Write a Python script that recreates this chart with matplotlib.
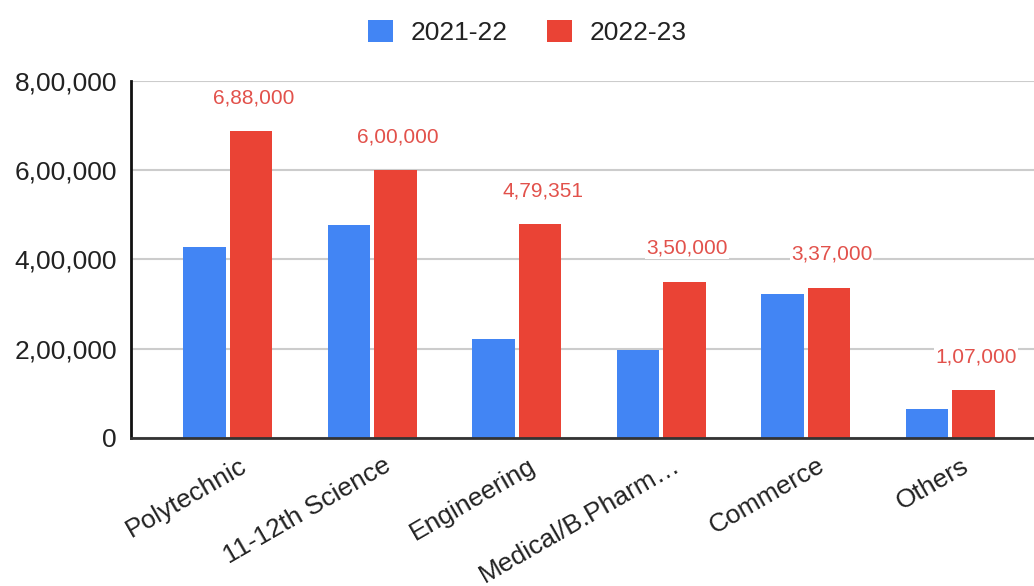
import matplotlib
matplotlib.use("Agg")
import matplotlib.pyplot as plt
import matplotlib.transforms as mtransforms
from matplotlib.ticker import FuncFormatter
import numpy as np

# 数据
categories = ["Polytechnic", "11-12th Science", "Engineering", "Medical/B.Pharm…", "Commerce", "Others"]
series_names = ["2021-22", "2022-23"]
values_2122 = [427000, 477000, 222000, 197000, 322000, 66000]
values_2223 = [688000, 600000, 479351, 350000, 337000, 107000]
y_ticks = [0, 200000, 400000, 600000, 800000]

BLUE = "#4285F4"
RED = "#EA4335"


def indian_format(v, pos=None):
    """印度计数法: 8,00,000"""
    v = int(round(v))
    s = str(v)
    if len(s) <= 3:
        return s
    last3 = s[-3:]
    rest = s[:-3]
    parts = []
    while len(rest) > 2:
        parts.insert(0, rest[-2:])
        rest = rest[:-2]
    if rest:
        parts.insert(0, rest)
    return ",".join(parts) + "," + last3


plt.rcParams["font.family"] = ["Liberation Sans", "DejaVu Sans"]

fig = plt.figure(figsize=(10.34, 5.86), dpi=100)
ax = fig.add_axes([0.1267, 0.2526, 0.8733, 0.6092])

x = np.arange(len(categories))
w = 0.295
off = 0.16
ax.bar(x - off, values_2122, w, color=BLUE, label=series_names[0], zorder=3)
ax.bar(x + off, values_2223, w, color=RED, label=series_names[1], zorder=3)

# 红色柱子的数值标签
for xi, v in zip(x, values_2223):
    ax.annotate(indian_format(v), (xi + off, v), xytext=(2, 24), textcoords="offset points",
                ha="center", va="center", fontsize=15, color="#e2514b", zorder=5,
                bbox=dict(boxstyle="square,pad=0.05", fc="white", ec="none"))

ax.set_xlim(-0.67, 5.58)
ax.set_ylim(0, 800000)
ax.set_yticks(y_ticks)
ax.yaxis.set_major_formatter(FuncFormatter(indian_format))
ax.grid(axis="y", color="#cccccc", linewidth=1.5, zorder=0)
ax.set_axisbelow(True)

for s in ["top", "right"]:
    ax.spines[s].set_visible(False)
ax.spines["left"].set_color("#111111")
ax.spines["left"].set_linewidth(2)
ax.spines["bottom"].set_color("#333333")
ax.spines["bottom"].set_linewidth(2)
ax.spines["left"].set_zorder(4)
ax.spines["bottom"].set_zorder(4)

ax.tick_params(axis="y", length=0, pad=10, labelsize=19, labelcolor="#222222")
ax.tick_params(axis="x", length=0, pad=14, labelsize=19, labelcolor="#222222")
ax.set_xticks(x)
ax.set_xticklabels(categories, rotation=30, ha="right", va="top", rotation_mode="anchor")
shift = mtransforms.ScaledTranslation(0.11, 0.04, fig.dpi_scale_trans)
for lab in ax.get_xticklabels():
    lab.set_transform(lab.get_transform() + shift)

fig.legend(loc="center", bbox_to_anchor=(0.51, 0.945), ncol=2, frameon=False,
           fontsize=19, handlelength=0.95, handleheight=0.95, handletextpad=0.65,
           columnspacing=1.5, labelcolor="#222222")

fig.savefig("out.png", dpi=100)
